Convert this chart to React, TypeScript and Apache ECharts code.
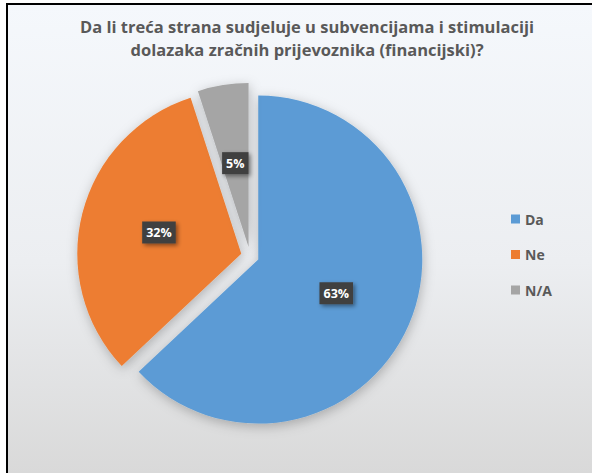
import React, { useEffect, useRef } from "react";
import * as echarts from "echarts";

const titleLines = [
  "Da li treća strana sudjeluje u subvencijama i stimulaciji",
  "dolazaka zračnih prijevoznika (financijski)?",
];
const categories = ["Da", "Ne", "N/A"];
const values = [63, 32, 5];
const colors = ["#5B9BD5", "#ED7D31", "#A5A5A5"];

export default function App() {
  const ref = useRef<HTMLDivElement>(null);
  useEffect(() => {
    if (!ref.current) return;
    const chart = echarts.init(ref.current, undefined, { renderer: "svg" });
    chart.setOption({
      animation: false,
      title: {
        text: titleLines.join("\n"),
        left: 302,
        top: 10,
        textAlign: "center",
        textStyle: {
          fontFamily: "Open Sans",
          fontWeight: "bold",
          fontSize: 16.5,
          lineHeight: 23,
          color: "#595959",
        },
      },
      legend: {
        orient: "vertical",
        left: 506,
        top: 206,
        icon: "rect",
        itemWidth: 9,
        itemHeight: 9,
        itemGap: 19.5,
        selectedMode: false,
        data: categories,
        textStyle: {
          fontFamily: "Open Sans",
          fontWeight: "bold",
          fontSize: 14,
          lineHeight: 16,
          color: "#595959",
        },
      },
      series: [
        {
          type: "pie",
          center: [250, 256],
          radius: 164,
          startAngle: 90,
          clockwise: true,
          selectedMode: "multiple",
          selectedOffset: 9,
          emphasis: { disabled: true },
          itemStyle: {
            shadowColor: "rgba(0,0,0,0.25)",
            shadowBlur: 12,
            shadowOffsetX: 1,
            shadowOffsetY: 3,
          },
          label: {
            show: true,
            position: "inside",
            formatter: "{c}%",
            backgroundColor: "#404040",
            color: "#ffffff",
            fontFamily: "Open Sans",
            fontWeight: "bold",
            fontSize: 12.5,
            lineHeight: 12,
            padding: [5, 4],
            shadowColor: "rgba(0,0,0,0.45)",
            shadowBlur: 4,
            shadowOffsetX: 2,
            shadowOffsetY: 2,
          },
          labelLine: { show: false },
          data: categories.map((name, i) => ({
            name,
            value: values[i],
            selected: true,
            itemStyle: { color: colors[i] },
          })),
        },
      ],
    });
    return () => chart.dispose();
  }, []);
  return (
    <div
      style={{
        position: "absolute",
        left: 0,
        top: 0,
        width: 592,
        height: 473,
        background: "#ffffff",
        overflow: "hidden",
      }}
    >
      <div
        style={{
          position: "absolute",
          left: 6,
          top: 3,
          width: 586,
          height: 470,
          boxSizing: "border-box",
          borderTop: "2px solid #000",
          borderLeft: "2px solid #000",
          background: "linear-gradient(#f5f8fc 0%, #eceef1 55%, #d9d9d9 100%)",
        }}
      />
      <div
        ref={ref}
        style={{ position: "absolute", left: 0, top: 0, width: 592, height: 473 }}
      />
    </div>
  );
}
